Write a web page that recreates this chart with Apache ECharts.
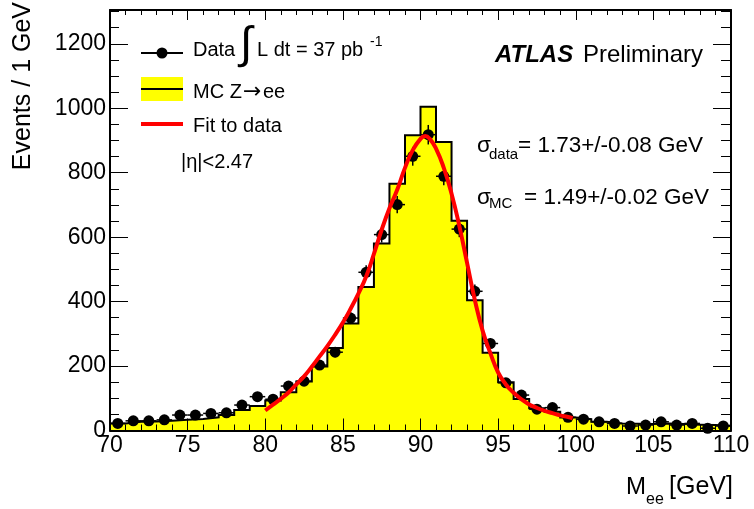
<!DOCTYPE html>
<html>
<head>
<meta charset="utf-8">
<script src="https://cdn.jsdelivr.net/npm/echarts@6/dist/echarts.min.js"></script>
<style>
  html, body { margin: 0; padding: 0; background: #ffffff; }
  #chart { width: 754px; height: 509px; }
</style>
</head>
<body>
<div id="chart"></div>
<script>
// Di-electron invariant mass, 1 GeV bins from 70 to 110 GeV
const binCenters = [
  70.5, 71.5, 72.5, 73.5, 74.5, 75.5, 76.5, 77.5, 78.5, 79.5,
  80.5, 81.5, 82.5, 83.5, 84.5, 85.5, 86.5, 87.5, 88.5, 89.5,
  90.5, 91.5, 92.5, 93.5, 94.5, 95.5, 96.5, 97.5, 98.5, 99.5,
  100.5, 101.5, 102.5, 103.5, 104.5, 105.5, 106.5, 107.5, 108.5, 109.5
];

// MC Z->ee prediction (events per bin)
const mcCounts = [
  22, 27, 28, 30, 33, 36, 41, 48, 64, 76,
  93, 119, 152, 199, 256, 332, 445, 580, 766, 916,
  1005, 895, 651, 404, 241, 150, 98, 69, 58, 40,
  35, 27, 22, 21, 20, 22, 20, 18, 17, 15
];

// Observed data (events per bin)
const dataCounts = [
  22, 30, 30, 33, 48, 48, 53, 55, 79, 105,
  97, 138, 153, 203, 243, 349, 491, 608, 701, 851,
  918, 789, 625, 432, 270, 148, 110, 66, 71, 41,
  35, 27, 22, 14, 17, 27, 17, 22, 7, 14
];

// Fitted line shape sampled along the fit range
const fitMass = [
  80.0, 80.5, 81.0, 81.5, 82.0, 82.5, 83.0, 83.5, 84.0, 84.5,
  85.0, 85.5, 86.0, 86.5, 87.0, 87.5, 88.0, 88.5, 89.0, 89.5,
  90.0, 90.3, 90.6, 91.0, 91.5, 92.0, 92.5, 93.0, 93.5, 94.0,
  94.5, 95.0, 95.5, 96.0, 96.5, 97.0, 97.5, 98.0, 98.5, 99.0,
  99.5, 99.8
];
const fitCounts = [
  62, 80, 98, 118, 143, 168, 198, 230, 262, 297,
  335, 378, 425, 478, 548, 623, 690, 747, 815, 870,
  905, 914, 905, 875, 815, 735, 635, 520, 405, 310,
  240, 180, 143, 117, 97, 81, 70, 61, 54, 47,
  42, 38
];

const FONT = '"Liberation Sans", Arial, Helvetica, sans-serif';
const BLACK = '#000000';

// Histogram outline: left edge of each bin at its height, closed at the last upper edge
const halfBin = 0.5;
const mcStep = binCenters.map((c, i) => [c - halfBin, mcCounts[i]]);
mcStep.push([binCenters[binCenters.length - 1] + halfBin, mcCounts[mcCounts.length - 1]]);

const dataPoints = binCenters.map((c, i) => [c, dataCounts[i]]);
const dataErrors = binCenters.map((c, i) => [c, dataCounts[i], Math.sqrt(dataCounts[i])]);
const fitPoints = fitMass.map((m, i) => [m, fitCounts[i]]);

function xAxisDef(position, interval, tickLen, withLine, withLabels) {
  return {
    type: 'value', min: 70, max: 110, interval: interval, position: position, z: 10,
    axisLine: { show: withLine, onZero: false, lineStyle: { color: BLACK, width: 2 } },
    axisTick: { show: true, inside: true, length: tickLen, lineStyle: { color: BLACK, width: 1 } },
    axisLabel: {
      show: withLabels, color: BLACK, fontFamily: FONT, fontSize: 23, margin: 4,
      formatter: v => String(v)
    },
    splitLine: { show: false }
  };
}

function yAxisDef(position, interval, tickLen, withLine, withLabels) {
  return {
    type: 'value', min: 0, max: 1305, interval: interval, position: position, z: 10,
    axisLine: { show: withLine, onZero: false, lineStyle: { color: BLACK, width: 2 } },
    axisTick: { show: true, inside: true, length: tickLen, lineStyle: { color: BLACK, width: 1 } },
    axisLabel: {
      show: withLabels, color: BLACK, fontFamily: FONT, fontSize: 23, margin: 4,
      padding: [4, 0, 0, 0],
      formatter: v => (v % 200 === 0 && v <= 1200) ? String(v) : ''
    },
    splitLine: { show: false }
  };
}

function txt(x, y, text, size, opts) {
  opts = opts || {};
  const style = {
    text: text, x: 0, y: 0, fill: BLACK,
    fontFamily: opts.family || FONT, fontSize: size,
    fontWeight: opts.weight || 'normal', fontStyle: opts.italic ? 'italic' : 'normal',
    align: opts.align || 'left', textAlign: opts.align || 'left',
    verticalAlign: 'middle', textVerticalAlign: 'middle'
  };
  return { type: 'text', x: x, y: y, rotation: opts.rotation || 0, z: 100, style: style };
}

const chart = echarts.init(document.getElementById('chart'), null, { renderer: 'canvas' });

chart.setOption({
  animation: false,
  backgroundColor: '#ffffff',
  grid: { left: 110, right: 23, top: 10, bottom: 78.5, containLabel: false },
  xAxis: [
    xAxisDef('bottom', 5, 12, true, true),
    xAxisDef('bottom', 1, 6, false, false),
    xAxisDef('top', 5, 10, true, false),
    xAxisDef('top', 1, 5, false, false)
  ],
  yAxis: [
    yAxisDef('left', 200, 18, true, true),
    yAxisDef('left', 50, 9, false, false),
    yAxisDef('right', 200, 18, true, false),
    yAxisDef('right', 50, 10, false, false)
  ],
  series: [
    {
      name: 'MC Z→ee', type: 'line', xAxisIndex: 0, yAxisIndex: 0,
      data: mcStep, step: 'end', symbol: 'none', z: 2,
      lineStyle: { color: BLACK, width: 2, join: 'miter' },
      areaStyle: { color: '#ffff00', opacity: 1 }
    },
    {
      name: 'Data errors', type: 'custom', xAxisIndex: 0, yAxisIndex: 0, z: 3,
      data: dataErrors,
      renderItem: function (params, api) {
        const x = api.value(0), y = api.value(1), e = api.value(2);
        const c = api.coord([x, y]);
        const top = api.coord([x, y + e]);
        const bot = api.coord([x, Math.max(y - e, 0)]);
        const l = api.coord([x - halfBin, y]);
        const r = api.coord([x + halfBin, y]);
        const st = { stroke: BLACK, lineWidth: 1.5 };
        return {
          type: 'group',
          children: [
            { type: 'line', shape: { x1: c[0], y1: top[1], x2: c[0], y2: bot[1] }, style: st },
            { type: 'line', shape: { x1: l[0], y1: c[1], x2: r[0], y2: c[1] }, style: st }
          ]
        };
      }
    },
    {
      name: 'Data', type: 'scatter', xAxisIndex: 0, yAxisIndex: 0, z: 4,
      data: dataPoints, symbol: 'circle', symbolSize: 11,
      itemStyle: { color: BLACK, opacity: 1 }
    },
    {
      name: 'Fit to data', type: 'line', xAxisIndex: 0, yAxisIndex: 0, z: 5,
      data: fitPoints, smooth: true, symbol: 'none',
      lineStyle: { color: '#ff0000', width: 4 }
    }
  ],
  graphic: [
    // legend: data
    { type: 'line', z: 100, shape: { x1: 141, y1: 53, x2: 183, y2: 53 }, style: { stroke: BLACK, lineWidth: 2 } },
    { type: 'circle', z: 100, shape: { cx: 162, cy: 53, r: 5.5 }, style: { fill: BLACK } },
    txt(193, 50, 'Data', 20),
    txt(240, 46, '∫', 45),
    txt(257, 50, 'L dt = 37 pb', 20),
    txt(370, 42, '-1', 14),
    // legend: MC
    { type: 'rect', z: 100, shape: { x: 141, y: 77, width: 42, height: 24 }, style: { fill: '#ffff00' } },
    { type: 'line', z: 101, shape: { x1: 141, y1: 89, x2: 183, y2: 89 }, style: { stroke: BLACK, lineWidth: 2 } },
    txt(193, 92, 'MC Z', 20),
    txt(243, 92, '→', 22, { family: '"DejaVu Sans", sans-serif' }),
    txt(263, 92, 'ee', 20),
    // legend: fit
    { type: 'line', z: 100, shape: { x1: 141, y1: 124, x2: 183, y2: 124 }, style: { stroke: '#ff0000', lineWidth: 4 } },
    txt(193, 126, 'Fit to data', 20),
    txt(181, 162, '|η|<2.47', 20),
    // experiment label
    txt(495, 55, 'ATLAS', 24, { weight: 'bold', italic: true }),
    txt(583, 55, 'Preliminary', 24),
    // resolution results
    txt(477, 146, 'σ', 22.5),
    txt(489, 155, 'data', 15),
    txt(518, 146, '= 1.73+/-0.08 GeV', 22.5),
    txt(477, 198, 'σ', 22.5),
    txt(489, 204, 'MC', 15),
    txt(524, 198, '= 1.49+/-0.02 GeV', 22.5),
    // axis titles
    txt(626, 487, 'M', 24),
    txt(646, 500, 'ee', 16),
    txt(669, 487, '[GeV]', 25),
    txt(23, 2, 'Events / 1 GeV', 25, { align: 'right', rotation: Math.PI / 2 })
  ]
});
</script>
</body>
</html>
